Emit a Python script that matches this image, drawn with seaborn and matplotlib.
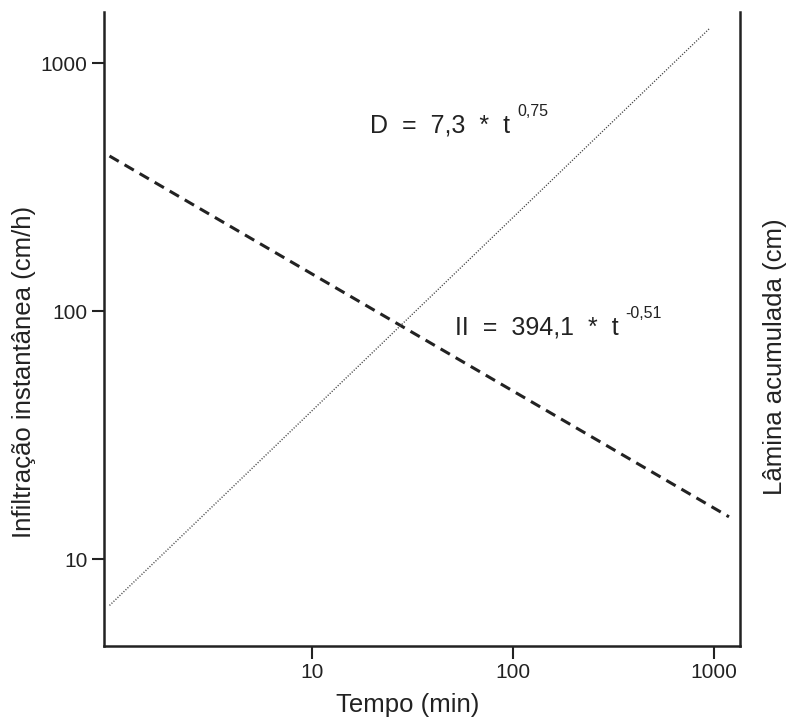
import pandas as pd
import matplotlib
import matplotlib.pyplot as plt
import seaborn as sns

# values (log-log, straight lines)
tempo = [0.98, 1188]
infiltracao = [422, 14.8]
tempo_d = [0.98, 955]
lamina = [6.5, 1384]

x_ticks = [10, 100, 1000]
y_ticks = [10, 100, 1000]

sns.set_theme(style='ticks')
plt.rcParams['font.family'] = ['Liberation Sans', 'DejaVu Sans']
matplotlib.rcParams.update({'font.size': 14})

df_i = pd.DataFrame({'t': tempo, 'v': infiltracao})
df_d = pd.DataFrame({'t': tempo_d, 'v': lamina})

fig = plt.figure(figsize=(7.9, 7.2), dpi=100)
ax = fig.add_axes([104/790, 1 - 646/720, 636/790, 634/720])

sns.lineplot(ax=ax, data=df_i, x='t', y='v', color='#222222', linewidth=2.2,
             linestyle=(0, (3.5, 2.2)))
sns.lineplot(ax=ax, data=df_d, x='t', y='v', color='#444444', linewidth=1.0,
             linestyle=(0, (0.8, 1.2)))

ax.set_xscale('log')
ax.set_yscale('log')
ax.set_xlim(0.92, 1348)
ax.set_ylim(4.46, 1607)
ax.set_xticks(x_ticks)
ax.set_xticklabels([str(v) for v in x_ticks])
ax.set_yticks(y_ticks)
ax.set_yticklabels([str(v) for v in y_ticks])
ax.minorticks_off()
ax.tick_params(axis='both', direction='out', length=9, width=1.5,
               color='#222222', labelsize=15, labelcolor='#222222', pad=3)
ax.set_xlabel('')
ax.set_ylabel('')

for side in ['left', 'right', 'bottom']:
    ax.spines[side].set_linewidth(1.8)
    ax.spines[side].set_color('#222222')
ax.spines['top'].set_visible(False)

# equations, exponent drawn as a small raised text after the main text
t1 = ax.text(19.5, 562, 'D  =  7,3  *  t', fontsize=18, ha='left',
             va='center', color='#222222')
ax.annotate('0,75', xy=(1, 0.75), xycoords=t1, xytext=(5, 0),
            textcoords='offset points', fontsize=11.5, va='bottom',
            ha='left', color='#222222')
t2 = ax.text(51.4, 86, 'II  =  394,1  *  t', fontsize=18, ha='left',
             va='center', color='#222222')
ax.annotate('-0,51', xy=(1, 0.75), xycoords=t2, xytext=(5, 0),
            textcoords='offset points', fontsize=11.5, va='bottom',
            ha='left', color='#222222')

fig.text(408/790, 1 - 705/720, 'Tempo (min)', fontsize=18.5, ha='center',
         va='center', color='#222222')
fig.text(24/790, 1 - 372/720, 'Infiltração instantânea (cm/h)', fontsize=18.5,
         ha='center', va='center', rotation=90, color='#222222')
fig.text(775/790, 1 - 357/720, 'Lâmina acumulada (cm)', fontsize=18.5,
         ha='center', va='center', rotation=90, color='#222222')

plt.savefig('out.png', dpi=100)
